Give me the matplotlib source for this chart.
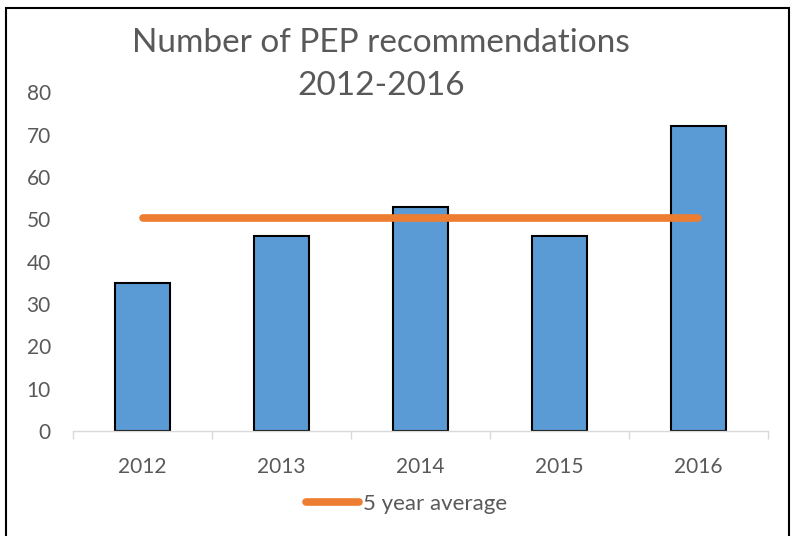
import matplotlib
matplotlib.use('Agg')
import matplotlib.pyplot as plt
from matplotlib.patches import Rectangle
import numpy as np

years = ['2012', '2013', '2014', '2015', '2016']
counts = [35, 46, 53, 46, 72]
avg_label = '5 year average'

plt.rcParams['font.family'] = ['Lato', 'DejaVu Sans']

fig = plt.figure(figsize=(7.94, 5.36), dpi=100)
ax = fig.add_axes([0.092, 0.196, 0.875, 0.632])

x = np.arange(len(years))
ax.bar(x, counts, width=0.4, color='#5b9bd5', edgecolor='black', linewidth=1.5, zorder=2)
avg = sum(counts) / len(counts)
ax.plot([x[0], x[-1]], [avg, avg], color='#ed7d31', linewidth=5.5,
        solid_capstyle='round', label=avg_label, zorder=3)

ax.set_xlim(-0.5, len(years) - 0.5)
ax.set_ylim(0, 80)
ax.set_yticks(range(0, 81, 10))
ax.set_xticks(x)
ax.set_xticklabels(years)
ax.tick_params(axis='y', length=0, labelsize=15, labelcolor='#595959', pad=16)
ax.tick_params(axis='x', length=0, labelsize=15, labelcolor='#595959', pad=19)
# category boundary ticks
ax.set_xticks(np.arange(-0.5, len(years), 1), minor=True)
ax.tick_params(axis='x', which='minor', length=6, color='#d9d9d9', width=1)
for s in ['top', 'right', 'left']:
    ax.spines[s].set_visible(False)
ax.spines['bottom'].set_color('#d9d9d9')
ax.spines['bottom'].set_linewidth(1)

fig.text(0.48, 0.903, 'Number of PEP recommendations', ha='center', va='baseline',
         fontsize=24, color='#595959')
fig.text(0.48, 0.823, '2012-2016', ha='center', va='baseline',
         fontsize=24, color='#595959')

leg = ax.legend(loc='center', bbox_to_anchor=(0.48, -0.215), frameon=False,
                fontsize=16, handlelength=2.4, handletextpad=0.2)
for t in leg.get_texts():
    t.set_color('#595959')

fig.patches.append(Rectangle((6 / 794, -0.01), 783 / 794, 1 - 8 / 536 + 0.01,
                             transform=fig.transFigure, fill=False,
                             edgecolor='black', linewidth=1.5))

plt.savefig('out.png', dpi=100)
